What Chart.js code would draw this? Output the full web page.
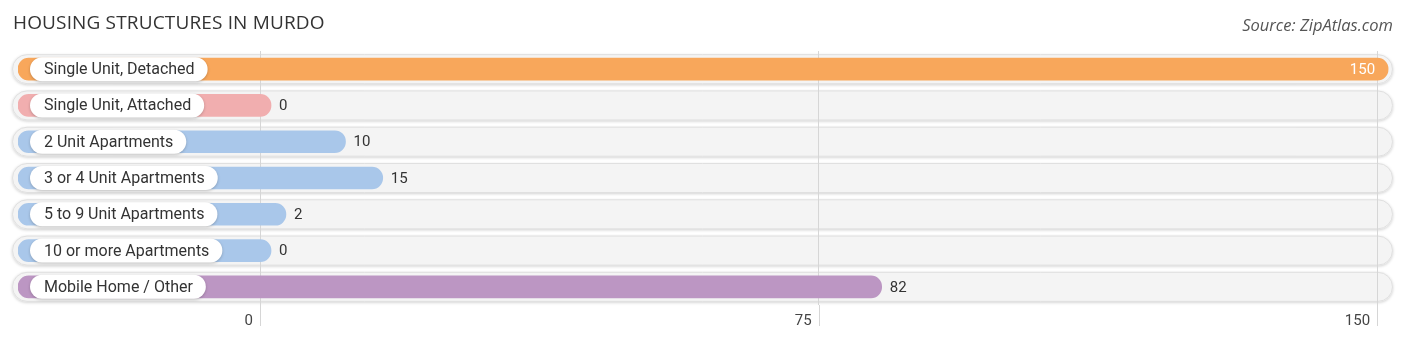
<!DOCTYPE html>
<html>
<head>
<meta charset="utf-8">
<script src="https://cdn.jsdelivr.net/npm/chart.js@4/dist/chart.umd.min.js"></script>
<style>
  html,body{margin:0;padding:0;background:#fff;}
  #wrap{position:relative;width:1406px;height:341px;overflow:hidden;}
  #title{position:absolute;left:13px;top:9px;font-family:"Open Sans",sans-serif;font-size:19px;color:#333;letter-spacing:0.15px;}
  #source{position:absolute;right:13px;top:13px;font-family:"Open Sans",sans-serif;font-style:italic;font-size:16.5px;color:#555;}
  canvas{position:absolute;left:0;top:0;}
</style>
</head>
<body>
<div id="wrap">
  <canvas id="c" width="1406" height="341"></canvas>
  <div id="title">HOUSING STRUCTURES IN MURDO</div>
  <div id="source">Source: ZipAtlas.com</div>
</div>
<script>
const categories = ["Single Unit, Detached","Single Unit, Attached","2 Unit Apartments","3 or 4 Unit Apartments","5 to 9 Unit Apartments","10 or more Apartments","Mobile Home / Other"];
const values = [150, 0, 10, 15, 2, 0, 82];
const barColors = ["#F8A75B","#F1AEAF","#A9C7EA","#A9C7EA","#A9C7EA","#A9C7EA","#BC96C3"];
const tickValues = [0, 75, 150];

const X_MIN = -32.5, X_MAX = 152;
const CAP = 11;

function roundRect(ctx, x, y, w, h, r){
  ctx.beginPath();
  ctx.moveTo(x+r, y);
  ctx.lineTo(x+w-r, y);
  ctx.arc(x+w-r, y+r, r, -Math.PI/2, Math.PI/2);
  ctx.lineTo(x+r, y+h);
  ctx.arc(x+r, y+r, r, Math.PI/2, Math.PI*1.5);
  ctx.closePath();
}

const deco = {
  id: 'deco',
  afterDatasetsUpdate(chart){
    chart.getDatasetMeta(0).data.forEach(el => { el.x += CAP; });
  },
  beforeDraw(chart){
    const ctx = chart.ctx;
    const ys = chart.scales.y;
    ctx.save();
    categories.forEach((c, i) => {
      const yc = ys.getPixelForValue(i);
      ctx.save();
      ctx.shadowColor = 'rgba(0,0,0,0.18)';
      ctx.shadowBlur = 3;
      ctx.shadowOffsetY = 1;
      roundRect(ctx, 12, yc - 15, 1381, 30, 15);
      ctx.fillStyle = '#f4f4f4';
      ctx.fill();
      ctx.restore();
      roundRect(ctx, 12.5, yc - 14.5, 1380, 29, 14.5);
      ctx.strokeStyle = '#e0e0e0';
      ctx.lineWidth = 1;
      ctx.stroke();
    });
    ctx.restore();
  },
  afterDatasetsDraw(chart){
    const ctx = chart.ctx;
    const ys = chart.scales.y, xs = chart.scales.x;
    const area = chart.chartArea;
    ctx.save();
    ctx.strokeStyle = '#d6d6d6';
    ctx.lineWidth = 1;
    tickValues.forEach(v => {
      const px = Math.round(xs.getPixelForValue(v)) + 0.5;
      ctx.beginPath(); ctx.moveTo(px, area.bottom); ctx.lineTo(px, 326); ctx.stroke();
    });
    ctx.font = '16px Roboto';
    ctx.textBaseline = 'middle';
    categories.forEach((c, i) => {
      const yc = ys.getPixelForValue(i);
      const tw = ctx.measureText(c).width;
      ctx.save();
      ctx.shadowColor = 'rgba(0,0,0,0.22)';
      ctx.shadowBlur = 3;
      ctx.shadowOffsetY = 1;
      roundRect(ctx, 30, yc - 12, tw + 27, 24, 12);
      ctx.fillStyle = '#ffffff';
      ctx.fill();
      ctx.restore();
      ctx.fillStyle = '#333333';
      ctx.textAlign = 'left';
      ctx.fillText(c, 44, yc + 1);
    });
    ctx.font = '15px Roboto';
    const meta = chart.getDatasetMeta(0);
    values.forEach((v, i) => {
      const el = meta.data[i];
      const yc = el.y;
      if (v >= 100) {
        ctx.fillStyle = '#ffffff';
        ctx.textAlign = 'right';
        ctx.fillText(String(v), el.x - 13, yc + 1);
      } else {
        ctx.fillStyle = '#333333';
        ctx.textAlign = 'left';
        ctx.fillText(String(v), el.x + 8, yc + 1);
      }
    });
    ctx.restore();
  }
};

new Chart(document.getElementById('c'), {
  type: 'bar',
  data: {
    labels: categories,
    datasets: [{
      data: values,
      backgroundColor: barColors,
      base: X_MIN,
      barThickness: 22,
      borderRadius: 11,
      borderSkipped: false
    }]
  },
  options: {
    indexAxis: 'y',
    responsive: false,
    devicePixelRatio: 1,
    animation: false,
    events: [],
    layout: { padding: { left: 18, right: 14, top: 51, bottom: 4 } },
    plugins: { legend: { display: false }, tooltip: { enabled: false } },
    scales: {
      x: {
        min: X_MIN, max: X_MAX,
        afterBuildTicks(scale){ scale.ticks = tickValues.map(v => ({ value: v })); },
        border: { display: false },
        grid: { color: '#d6d6d6', drawTicks: false },
        ticks: {
          align: 'end', labelOffset: -7, padding: 7,
          color: '#444', font: { family: 'Roboto', size: 15 },
          callback: v => String(v)
        }
      },
      y: { display: false, grid: { display: false } }
    }
  },
  plugins: [deco]
});
</script>
</body>
</html>
